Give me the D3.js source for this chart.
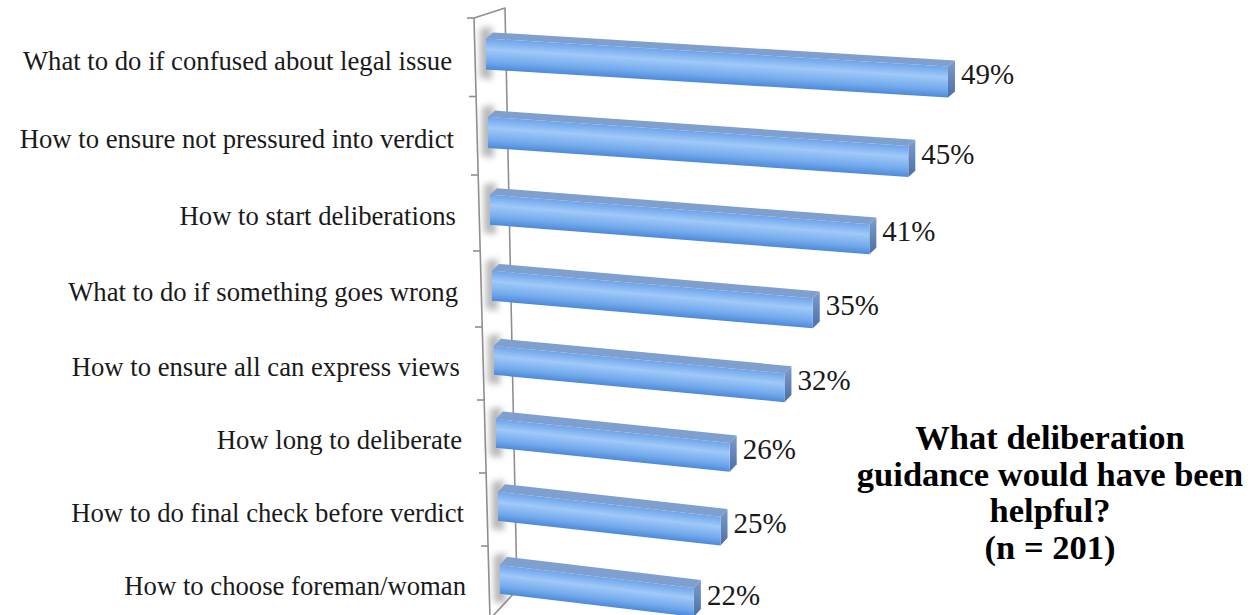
<!DOCTYPE html>
<html>
<head>
<meta charset="utf-8">
<script src="https://cdn.jsdelivr.net/npm/d3@7"></script>
<style>
  html, body { margin: 0; padding: 0; background: #ffffff; }
  svg { display: block; }
</style>
</head>
<body>
<svg id="chart" width="1252" height="615"></svg>
<script>
// ---------------- data ----------------
const categories = [
  "What to do if confused about legal issue",
  "How to ensure not pressured into verdict",
  "How to start deliberations",
  "What to do if something goes wrong",
  "How to ensure all can express views",
  "How long to deliberate",
  "How to do final check before verdict",
  "How to choose foreman/woman"
];
const values = [49, 45, 41, 35, 32, 26, 25, 22];
const valueLabels = values.map(v => v + "%");
const titleLines = ["What deliberation", "guidance would have been", "helpful?", "(n = 201)"];

// ---------------- setup ----------------
const svg = d3.select("#chart");
const n = categories.length;
const serif = "'Liberation Serif', 'DejaVu Serif', serif";

// category position (0 .. n) -> y on the front wall edge (slight perspective)
const yWall = d3.scaleLinear().domain([0, 2, 4, 8]).range([18, 175, 327, 619]);
// front wall edge x drifts right going down
const xWall = d3.scaleLinear().domain([0, n]).range([474, 490]);
// wall depth vector (front edge -> back edge)
const depthX = d3.scaleLinear().domain([0, n]).range([31, 27]);
const depthY = d3.scaleLinear().domain([0, n]).range([-10, -29]);
// value -> bar length (before perspective)
const xLen = d3.scaleLinear().domain([0, 50]).range([0, 471.5]);
// perspective shrink and slope per row
const persp = d3.scaleLinear().domain([0, n - 1]).range([1, 0.935]);
const slope = d3.scaleLinear().domain([0, n - 1]).range([0.061, 0.119]);
// bar depth offset
const bdx = d3.scaleLinear().domain([0, n - 1]).range([7, 7]);
const bdy = d3.scaleLinear().domain([0, n - 1]).range([-6, -8]);

const defs = svg.append("defs");
const gFront = defs.append("linearGradient").attr("id", "gFront")
  .attr("x1", 0).attr("y1", 0).attr("x2", 0).attr("y2", 1);
gFront.append("stop").attr("offset", "0%").attr("stop-color", "#6EA3EA");
gFront.append("stop").attr("offset", "35%").attr("stop-color", "#9FC9F8");
gFront.append("stop").attr("offset", "75%").attr("stop-color", "#72A9EC");
gFront.append("stop").attr("offset", "100%").attr("stop-color", "#4C89D8");
const gEnd = defs.append("linearGradient").attr("id", "gEnd")
  .attr("x1", 0).attr("y1", 0).attr("x2", 0).attr("y2", 1);
gEnd.append("stop").attr("offset", "0%").attr("stop-color", "#7D9DCC");
gEnd.append("stop").attr("offset", "100%").attr("stop-color", "#4A6EA6");
defs.append("filter").attr("id", "blur").attr("x", "-50%").attr("y", "-50%")
  .attr("width", "200%").attr("height", "200%")
  .append("feGaussianBlur").attr("stdDeviation", 3);

// ---------------- wall ----------------
const wallPts = [
  [xWall(0), yWall(0)],
  [xWall(0) + depthX(0), yWall(0) + depthY(0)],
  [xWall(n) + depthX(n), yWall(n) + depthY(n)],
  [xWall(n), yWall(n)]
];
svg.append("polygon").attr("points", wallPts.map(p => p.join(",")).join(" "))
  .attr("fill", "#ffffff").attr("stroke", "#8f8f8f").attr("stroke-width", 1.6)
  .attr("stroke-linejoin", "round");
// ticks on the front edge
svg.append("g").selectAll("line").data(d3.range(n + 1)).join("line")
  .attr("x1", c => xWall(c) - 7).attr("x2", c => xWall(c))
  .attr("y1", c => yWall(c)).attr("y2", c => yWall(c))
  .attr("stroke", "#8f8f8f").attr("stroke-width", 1.6);

// ---------------- bars ----------------
function geom(v, i) {
  const y0 = yWall(i), bh = yWall(i + 1) - y0;
  const xl = xWall(i + 0.45) + 11;
  const yt = y0 + 0.26 * bh;
  const yb = y0 + 0.655 * bh;
  const L = xLen(v) * persp(i);
  const s = slope(i);
  return { xl, yt, yb, L, s, dx: bdx(i), dy: bdy(i), xr: xl + L, ytr: yt + s * L, ybr: yb + s * L };
}
const bars = svg.append("g").selectAll("g").data(values).join("g");
// shadow on wall
bars.append("polygon")
  .attr("points", (v, i) => {
    const g = geom(v, i);
    return [[g.xl - 6, g.yt - 10], [g.xl + 6, g.yt - 12], [g.xl + 6, g.yb + 10], [g.xl - 6, g.yb + 8]]
      .map(p => p.join(",")).join(" ");
  })
  .attr("fill", "#8a8a8a").attr("opacity", 0.6).attr("filter", "url(#blur)");
// top face
bars.append("polygon")
  .attr("points", (v, i) => {
    const g = geom(v, i);
    return [[g.xl, g.yt], [g.xr, g.ytr], [g.xr + g.dx, g.ytr + g.dy], [g.xl + g.dx, g.yt + g.dy]]
      .map(p => p.join(",")).join(" ");
  })
  .attr("fill", "#7F9FCF");
// end face
bars.append("polygon")
  .attr("points", (v, i) => {
    const g = geom(v, i);
    return [[g.xr, g.ytr], [g.xr + g.dx, g.ytr + g.dy], [g.xr + g.dx, g.ybr + g.dy], [g.xr, g.ybr]]
      .map(p => p.join(",")).join(" ");
  })
  .attr("fill", "url(#gEnd)");
// front face (skewed rect so the gradient follows the bar)
bars.append("rect")
  .attr("x", 0).attr("y", 0)
  .attr("width", (v, i) => geom(v, i).L)
  .attr("height", (v, i) => { const g = geom(v, i); return g.yb - g.yt; })
  .attr("transform", (v, i) => { const g = geom(v, i); return `matrix(1,${g.s},0,1,${g.xl},${g.yt})`; })
  .attr("fill", "url(#gFront)");

// ---------------- value labels ----------------
svg.append("g").selectAll("text").data(values).join("text")
  .attr("x", (v, i) => geom(v, i).xr + 13)
  .attr("y", (v, i) => { const g = geom(v, i); return (g.ytr + g.ybr) / 2 - 8; })
  .attr("dy", "0.35em")
  .attr("font-family", serif).attr("font-size", 29).attr("fill", "#1a1a1a")
  .text((v, i) => valueLabels[i]);

// ---------------- category labels ----------------
svg.append("g").selectAll("text").data(categories).join("text")
  .attr("x", (d, i) => xWall(i + 0.5) - 23)
  .attr("y", (d, i) => (yWall(i) + yWall(i + 1)) / 2 + 3)
  .attr("dy", "0.35em")
  .attr("text-anchor", "end")
  .attr("font-family", serif).attr("font-size", 26.7).attr("fill", "#1a1a1a")
  .text(d => d);

// ---------------- title ----------------
svg.append("g").selectAll("text").data(titleLines).join("text")
  .attr("x", 1050)
  .attr("y", (d, i) => 437 + i * 36.5)
  .attr("dy", "0.35em")
  .attr("text-anchor", "middle")
  .attr("font-family", serif).attr("font-weight", "bold").attr("font-size", 34.5).attr("fill", "#000")
  .text(d => d);
</script>
</body>
</html>
